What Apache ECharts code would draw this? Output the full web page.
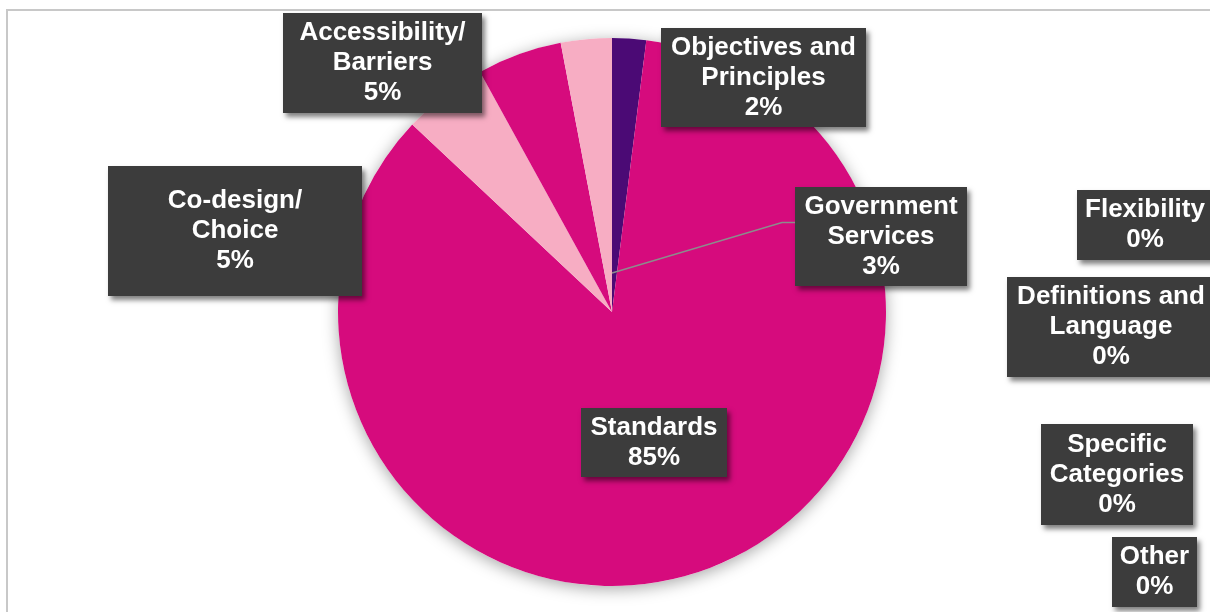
<!DOCTYPE html>
<html>
<head>
<meta charset="utf-8">
<script src="https://cdn.jsdelivr.net/npm/echarts@6/dist/echarts.min.js"></script>
<style>
  html, body { margin: 0; padding: 0; background: #ffffff; }
  #chart { width: 1210px; height: 612px; }
</style>
</head>
<body>
<div id="chart"></div>
<script>
// Categories in clockwise order starting at 12 o'clock
const categories = [
  'Objectives and\nPrinciples',
  'Standards',
  'Co-design/\nChoice',
  'Accessibility/\nBarriers',
  'Government\nServices',
  'Flexibility',
  'Definitions and\nLanguage',
  'Specific\nCategories',
  'Other'
];
// Share of responses (%)
const shares = [2, 85, 5, 5, 3, 0, 0, 0, 0];

const sliceColors = ['#4b0a75', '#d60b7d', '#f7adc3', '#d60b7d', '#f7adc3',
                     '#d60b7d', '#f7adc3', '#d60b7d', '#f7adc3'];

// Callout boxes: [centre x, centre y, box width, box height]
const labelBoxes = [
  [763.5, 77.5, 205, 99],
  [654, 442.5, 146, 69],
  [235, 231, 254, 130],
  [382.5, 63, 199, 100],
  [881, 236.5, 172, 99],
  [1145, 225, 136, 70],
  [1111, 327, 208, 100],
  [1117, 474.5, 152, 101],
  [1154.5, 572, 85, 70]
];

const PIE_CENTER = [612, 312];
const PIE_RADIUS = 274;
const LINE_H = 30;
const LEADER = 'Government\nServices';

const pieData = categories.map((name, i) => {
  const box = labelBoxes[i];
  const lines = name.split('\n').length + 1;
  const padV = Math.max(0, (box[3] - lines * LINE_H) / 2);
  return {
    name: name,
    value: shares[i],
    itemStyle: { color: sliceColors[i] },
    label: {
      width: box[2],
      padding: [padV, 0, padV, 0]
    }
  };
});

// Leader line from the Government Services callout back into the pie
const leaderBox = labelBoxes[categories.indexOf(LEADER)];
const leaderLeft = leaderBox[0] - leaderBox[2] / 2;
const leaderPoints = [
  [PIE_CENTER[0], PIE_CENTER[1] - 39],
  [leaderLeft - 13, leaderBox[1] - 14],
  [leaderLeft, leaderBox[1] - 14]
];

const chart = echarts.init(document.getElementById('chart'), null, { renderer: 'canvas' });

chart.setOption({
  backgroundColor: '#ffffff',
  animation: false,
  graphic: [
    {
      type: 'rect',
      z: -10,
      shape: { x: 7, y: 10, width: 1400, height: 800 },
      style: { fill: 'none', stroke: '#c8c8c8', lineWidth: 2 }
    },
    {
      type: 'polyline',
      z: 50,
      silent: true,
      shape: { points: leaderPoints },
      style: { fill: 'none', stroke: '#8c8c8c', lineWidth: 1.5 }
    }
  ],
  series: [
    {
      // soft drop shadow under the whole pie
      type: 'pie',
      silent: true,
      z: 1,
      center: PIE_CENTER,
      radius: PIE_RADIUS,
      label: { show: false },
      labelLine: { show: false },
      itemStyle: {
        color: '#ffffff',
        shadowBlur: 16,
        shadowColor: 'rgba(0,0,0,0.35)',
        shadowOffsetY: 3
      },
      data: [{ value: shares.reduce((a, b) => a + b, 0) }]
    },
    {
      type: 'pie',
      z: 2,
      center: PIE_CENTER,
      radius: PIE_RADIUS,
      startAngle: 90,
      clockwise: true,
      minAngle: 0,
      avoidLabelOverlap: false,
      itemStyle: { borderWidth: 0 },
      emphasis: { disabled: true },
      label: {
        show: true,
        position: 'outside',
        overflow: 'none',
        color: '#ffffff',
        fontFamily: '"Liberation Sans", Arial, sans-serif',
        fontWeight: 'bold',
        fontSize: 26,
        lineHeight: LINE_H,
        align: 'center',
        verticalAlign: 'middle',
        backgroundColor: '#3c3c3c',
        shadowColor: 'rgba(0,0,0,0.5)',
        shadowBlur: 5,
        shadowOffsetX: 3,
        shadowOffsetY: 4,
        formatter: p => p.name + '\n' + Math.round(p.percent) + '%'
      },
      labelLine: { show: false },
      labelLayout: function (params) {
        const box = labelBoxes[params.dataIndex];
        return { x: box[0], y: box[1], align: 'center', verticalAlign: 'middle' };
      },
      data: pieData
    }
  ]
});
</script>
</body>
</html>
